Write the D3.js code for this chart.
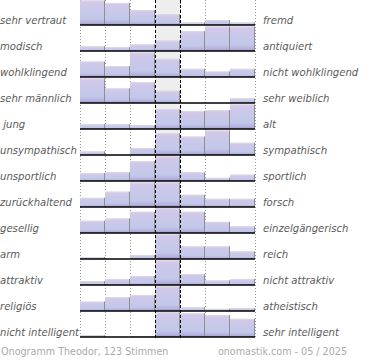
<!DOCTYPE html>
<html><head><meta charset="utf-8">
<script src="https://cdn.jsdelivr.net/npm/d3@7"></script>
<style>
html,body{margin:0;padding:0;background:#fff;}
svg{display:block;}
text{font-family:"DejaVu Sans",Verdana,sans-serif;}
</style></head>
<body><svg id="c" width="370" height="360"></svg>
<script>
const leftLabels = ["sehr vertraut","modisch","wohlklingend","sehr männlich"," jung","unsympathisch","unsportlich","zurückhaltend","gesellig","arm","attraktiv","religiös","nicht intelligent"];
const rightLabels = ["fremd","antiquiert","nicht wohlklingend","sehr weiblich","alt","sympathisch","sportlich","forsch","einzelgängerisch","reich","nicht attraktiv","atheistisch","sehr intelligent"];
const steps = [1,2,3,4,5,6,7];
// share of votes (%) per step, one array per row
const values = [
  [30,27,18,13,3,6,3],
  [5,4,7,11,21,26,26],
  [17,12,27,20,9,6,9],
  [32,19,27,16,0,0,6],
  [5,5,4,21,19,20,26],
  [4,0,8,25,21,28,14],
  [10,11,25,31,11,4,8],
  [9,15,24,24,12,8,8],
  [11,13,19,22,19,10,6],
  [3,0,6,39,20,20,12],
  [6,9,14,38,17,7,9],
  [13,19,22,34,5,3,4],
  [2,0,1,27,26,24,20]
];
const footerLeft = "Onogramm Theodor, 123 Stimmen";
const footerRight = "onomastik.com - 05 / 2025";

const svg = d3.select("#c");
const rows = d3.range(leftLabels.length);
const y = d3.scaleBand().domain(rows).range([0, 338]);
const x = d3.scaleBand().domain(steps).range([80, 255]);
const barMax = 24.5;

const defs = svg.append("defs");
const g = defs.append("linearGradient").attr("id","bg").attr("x1",0).attr("y1",0).attr("x2",0).attr("y2",1);
[[0,"#d6c8e8"],[0.35,"#c9c8ea"],[0.75,"#c2c8e9"],[0.92,"#b2aedc"],[1,"#a092c8"]].forEach(s=>g.append("stop").attr("offset",s[0]).attr("stop-color",s[1]));

// neutral column background
svg.append("rect").attr("x", x(4)).attr("y", 0).attr("width", x.bandwidth()).attr("height", 338).attr("fill", "#eeeeee");

// dotted grid lines
[1,2,3,5,6].map(s=>x(s)).concat([x(7)+x.bandwidth()]).forEach(px=>{
  svg.append("line").attr("x1",px+0.5).attr("x2",px+0.5).attr("y1",0).attr("y2",339)
    .attr("stroke","#999").attr("stroke-width",1).attr("stroke-dasharray","1,2");
});

rows.forEach(r=>{
  const base = y(r) + y.step() - 1;
  const h = d3.scaleLinear().domain([0, d3.max(values[r])]).range([0, barMax]);
  const gr = svg.append("g");
  const data = values[r].map((v,i)=>({v, s:steps[i]}));
  gr.selectAll("rect.bar").data(data).join("rect")
    .attr("class","bar")
    .attr("x", d=>x(d.s)).attr("width", x.bandwidth())
    .attr("y", d=>base - h(d.v)).attr("height", d=>h(d.v))
    .attr("fill","url(#bg)");
  gr.selectAll("line.top").data(data.filter(d=>d.v>0)).join("line")
    .attr("x1", d=>x(d.s)).attr("x2", d=>x(d.s)+x.bandwidth())
    .attr("y1", d=>base - h(d.v)+0.5).attr("y2", d=>base - h(d.v)+0.5)
    .attr("stroke","#d8d8e4").attr("stroke-width",1);
  gr.selectAll("line.edge").data(data.filter(d=>d.v>0)).join("line")
    .attr("x1", d=>x(d.s)+x.bandwidth()-0.5).attr("x2", d=>x(d.s)+x.bandwidth()-0.5)
    .attr("y1", d=>base - h(d.v)).attr("y2", base)
    .attr("stroke","#8e8e8e").attr("stroke-width",1);
  gr.append("line").attr("x1",80).attr("x2",255).attr("y1",base).attr("y2",base)
    .attr("stroke","#000").attr("stroke-width",1.6);
  gr.append("text").attr("x",0).attr("y",base-1.5).attr("font-size",10.1).attr("font-style","italic")
    .attr("fill","#5a5a5a").style("white-space","pre").text(leftLabels[r]);
  gr.append("text").attr("x",263).attr("y",base-1.5).attr("font-size",10.1).attr("font-style","italic")
    .attr("fill","#5a5a5a").text(rightLabels[r]);
});

// dashed neutral lines
[x(4), x(5)].forEach(px=>{
  svg.append("line").attr("x1",px+0.5).attr("x2",px+0.5).attr("y1",0).attr("y2",339)
    .attr("stroke","#000").attr("stroke-width",1).attr("stroke-dasharray","3,2");
});

svg.append("text").attr("x",1).attr("y",355).attr("font-size",9.6).attr("fill","#aaaaaa").text(footerLeft);
svg.append("text").attr("x",347).attr("y",355).attr("text-anchor","end").attr("font-size",9.6).attr("fill","#aaaaaa").text(footerRight);
</script></body></html>
